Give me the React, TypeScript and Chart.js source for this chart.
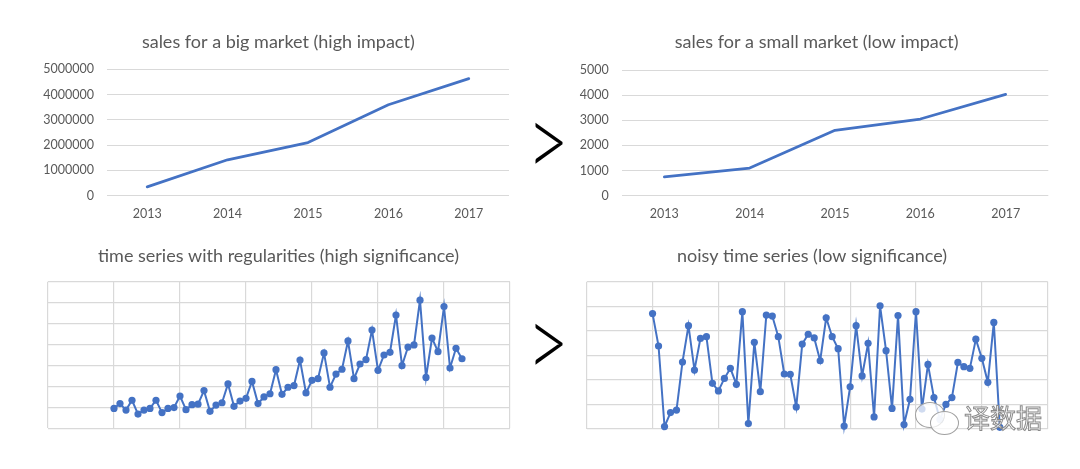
import React, { useEffect, useRef } from 'react';
import { Chart, registerables } from 'chart.js';

Chart.register(...registerables);

// ---------- data ----------
const years = ['2013', '2014', '2015', '2016', '2017'];
const bigMarketSales = [350000, 1420000, 2100000, 3600000, 4630000];
const smallMarketSales = [750, 1100, 2600, 3050, 4030];

const regularSeries = [
  9.5, 11.8, 8.7, 13.4, 6.8, 8.7, 9.5, 13.4, 7.5, 9.5, 9.9, 15.4, 8.9, 11.3, 11.5, 18.0,
  8.1, 11.1, 12.2, 21.2, 10.5, 13.0, 14.3, 22.4, 11.8, 15.0, 16.5, 28.0, 16.2, 19.6, 20.4, 32.6,
  16.9, 22.9, 23.7, 36.0, 19.6, 25.9, 28.2, 41.7, 23.7, 30.7, 32.8, 46.9, 27.7, 35.0, 36.3, 54.1,
  29.9, 38.8, 39.8, 61.2, 24.3, 43.1, 36.6, 58.1, 28.8, 38.2, 33.2,
];

const noisySeries = [
  47.0, 33.8, 1.0, 6.7, 7.7, 27.3, 42.1, 24.0, 36.9, 37.6,
  18.6, 15.5, 20.6, 24.7, 18.2, 47.8, 2.2, 35.3, 15.2, 46.4,
  46.0, 37.6, 22.4, 22.3, 9.0, 34.6, 38.6, 37.1, 27.8, 45.3,
  37.6, 32.7, 1.2, 17.2, 42.1, 21.6, 34.9, 4.9, 50.2, 31.9,
  8.4, 46.2, 1.8, 12.1, 47.8, 8.1, 26.3, 12.8, 3.9, 10.0,
  12.8, 27.1, 25.4, 24.7, 36.6, 28.8, 19.0, 43.4, 0.7,
];

const titles = [
  'sales for a big market (high impact)',
  'sales for a small market (low impact)',
  'time series with regularities (high significance)',
  'noisy time series (low significance)',
];

// ---------- styles ----------
const BLUE = '#4472C4';
const GRID = '#D9D9D9';
const TEXT = '#595959';
const FONT = 'Lato, "Open Sans", sans-serif';

// draws a chart title centred at a given point of the canvas
const posTitlePlugin = {
  id: 'posTitle',
  afterDraw(chart: any, _args: any, opts: any) {
    const ctx = chart.ctx;
    ctx.save();
    ctx.font = `normal ${opts.size}px ${FONT}`;
    ctx.fillStyle = opts.color;
    ctx.textAlign = 'center';
    ctx.textBaseline = 'middle';
    ctx.fillText(opts.text, opts.x, opts.y);
    ctx.restore();
  },
};

function topConfig(title: string, titleX: number, values: number[], yMax: number, yStep: number, axisW: number, padR: number, padT: number): any {
  return {
    type: 'line',
    data: {
      labels: years,
      datasets: [
        {
          data: values,
          borderColor: BLUE,
          borderWidth: 2.75,
          borderCapStyle: 'round',
          borderJoinStyle: 'round',
          pointRadius: 0,
          tension: 0,
          fill: false,
        },
      ],
    },
    plugins: [posTitlePlugin],
    options: {
      responsive: false,
      animation: false,
      layout: { padding: { left: 0, right: padR, top: padT, bottom: 0 } },
      plugins: {
        legend: { display: false },
        tooltip: { enabled: false },
        title: { display: false },
        posTitle: { text: title, x: titleX, y: 42, size: 18, color: TEXT },
      },
      scales: {
        x: {
          type: 'category',
          offset: true,
          grid: { display: false, drawTicks: false },
          border: { display: false },
          ticks: { color: TEXT, font: { family: FONT, size: 12.5 }, padding: 11, maxRotation: 0 },
          afterFit: (s: any) => {
            s.height = 39.3;
          },
        },
        y: {
          min: 0,
          max: yMax,
          grid: { color: GRID, drawTicks: false, lineWidth: 1 },
          border: { display: false },
          ticks: {
            stepSize: yStep,
            color: TEXT,
            font: { family: FONT, size: 12.5 },
            padding: 13,
            callback: (v: any) => String(v),
          },
          afterFit: (s: any) => {
            s.width = axisW;
          },
        },
      },
    },
  };
}

function bottomConfig(title: string, titleX: number, values: number[], yMax: number, padL: number, padR: number, padB: number): any {
  return {
    type: 'line',
    data: {
      datasets: [
        {
          data: values.map((v, i) => ({ x: i, y: v })),
          borderColor: BLUE,
          borderWidth: 2,
          pointRadius: 3.6,
          pointBorderWidth: 0,
          pointBackgroundColor: BLUE,
          tension: 0,
          fill: false,
          clip: false,
        },
      ],
    },
    plugins: [posTitlePlugin],
    options: {
      responsive: false,
      animation: false,
      layout: { padding: { left: padL, right: padR, top: 46.7, bottom: padB } },
      plugins: {
        legend: { display: false },
        tooltip: { enabled: false },
        title: { display: false },
        posTitle: { text: title, x: titleX, y: 21, size: 18, color: TEXT },
      },
      scales: {
        x: {
          type: 'linear',
          min: -11,
          max: 66,
          grid: { color: GRID, drawTicks: false, lineWidth: 1.2 },
          border: { display: false },
          ticks: { display: false, stepSize: 11 },
        },
        y: {
          min: 0,
          max: yMax,
          grid: { color: GRID, drawTicks: false, lineWidth: 1.2 },
          border: { display: false },
          ticks: { display: false, stepSize: 10 },
        },
      },
    },
  };
}

function ChartBox(props: { left: number; top: number; width: number; height: number; config: any }) {
  const ref = useRef<HTMLCanvasElement | null>(null);
  useEffect(() => {
    if (!ref.current) return;
    const chart = new Chart(ref.current, props.config);
    return () => chart.destroy();
  }, []);
  return (
    <div style={{ position: 'absolute', left: props.left, top: props.top, width: props.width, height: props.height }}>
      <canvas ref={ref} width={props.width} height={props.height} style={{ width: props.width, height: props.height, display: 'block' }} />
    </div>
  );
}

const gtStyle: React.CSSProperties = {
  position: 'absolute',
  fontFamily: 'Lato, sans-serif',
  fontWeight: 300,
  fontSize: 80,
  lineHeight: 1,
  color: '#000',
  transform: 'scale(0.9, 1.26)',
  transformOrigin: 'top left',
};

export default function App() {
  useEffect(() => {
    document.body.style.margin = '0';
  }, []);
  return (
    <div style={{ position: 'relative', width: 1080, height: 469, background: '#fff', overflow: 'hidden' }}>
      <ChartBox left={0} top={0} width={540} height={235} config={topConfig(titles[0], 278.3, bigMarketSales, 5000000, 1000000, 107, 31, 69.3)} />
      <ChartBox left={540} top={0} width={540} height={235} config={topConfig(titles[1], 276.7, smallMarketSales, 5000, 1000, 81.7, 31.7, 70)} />
      <ChartBox left={0} top={235} width={540} height={234} config={bottomConfig(titles[2], 278.5, regularSeries, 70, 48, 30, 40.7)} />
      <ChartBox left={540} top={235} width={540} height={234} config={bottomConfig(titles[3], 272, noisySeries, 60, 46.7, 32.3, 40)} />
      <div style={{ ...gtStyle, left: 527, top: 88 }}>&gt;</div>
      <div style={{ ...gtStyle, left: 527, top: 289 }}>&gt;</div>
      {/* watermark */}
      <div style={{ position: 'absolute', left: 915, top: 402, width: 28, height: 24, borderRadius: '50%', border: '1px solid #a0a0a0', background: 'rgba(255,255,255,0.75)' }} />
      <div style={{ position: 'absolute', left: 930, top: 411, width: 27, height: 22, borderRadius: '50%', border: '1px solid #a0a0a0', background: 'rgba(255,255,255,0.75)' }} />
      <div
        style={{
          position: 'absolute',
          left: 964,
          top: 404,
          fontFamily: '"Noto Sans CJK SC", sans-serif',
          fontSize: 26,
          lineHeight: 1,
          color: 'rgba(255,255,255,0.85)',
          WebkitTextStroke: '1px #8a8a8a',
        }}
      >
        译数据
      </div>
    </div>
  );
}
